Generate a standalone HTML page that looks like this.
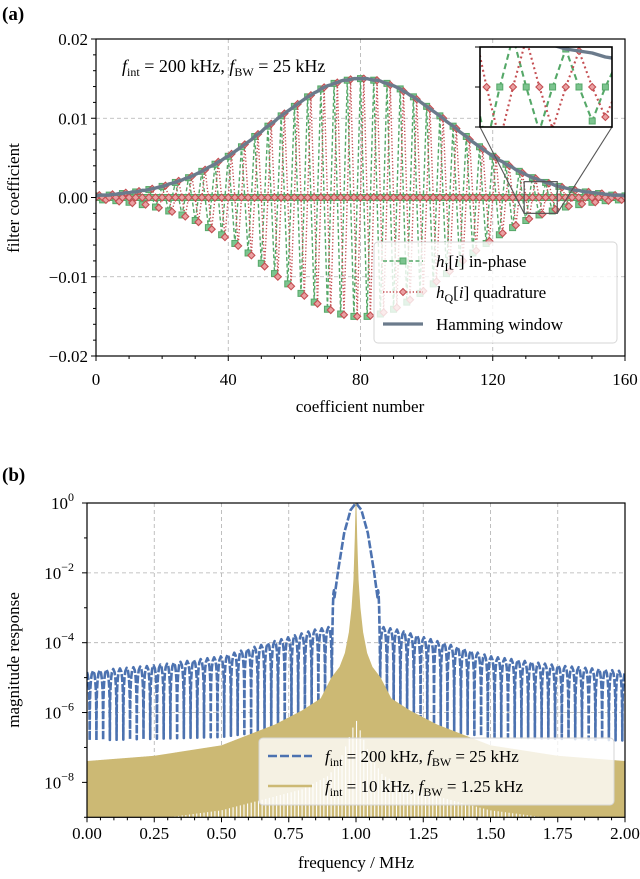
<!DOCTYPE html>
<html><head><meta charset="utf-8"><style>
html,body{margin:0;padding:0;background:#fff;}
svg{display:block;font-family:"Liberation Serif","DejaVu Serif",serif;}
</style></head><body>
<svg id="chart" width="640" height="879" viewBox="0 0 640 879" xmlns="http://www.w3.org/2000/svg">
<defs>
<clipPath id="clipA"><rect x="96" y="39" width="529" height="317"/></clipPath>
<clipPath id="clipInset"><rect x="480" y="47" width="132" height="80"/></clipPath>
<clipPath id="clipB"><rect x="87" y="503" width="538" height="314.3"/></clipPath>
</defs>
<rect width="640" height="879" fill="#fff"/>
<text x="2" y="20" font-size="19" font-weight="bold">(a)</text>
<text x="2" y="481" font-size="19" font-weight="bold">(b)</text>
<g id="aGrid"></g>
<g id="aData" clip-path="url(#clipA)"></g>
<g id="aAxes"></g>
<text x="122" y="72" font-size="18"><tspan font-style="italic">f</tspan><tspan font-size="12" dy="4">int</tspan><tspan dy="-4"> = 200 kHz, </tspan><tspan font-style="italic">f</tspan><tspan font-size="12" dy="4">BW</tspan><tspan dy="-4"> = 25 kHz</tspan></text>
<g id="aLegend">
<rect x="374" y="242" width="243" height="101" rx="4" fill="#fff" fill-opacity="0.8" stroke="#d6d6d6"/>
<g>
<line x1="383" y1="261" x2="423" y2="261" stroke="#55a868" stroke-width="1.4" stroke-dasharray="4,2.5"/>
<rect x="400" y="258" width="6" height="6" fill="#7cc48f" stroke="#55a868" stroke-width="1"/>
<text x="436" y="267" font-size="17"><tspan font-style="italic">h</tspan><tspan font-size="12" dy="4">I</tspan><tspan dy="-4">[</tspan><tspan font-style="italic">i</tspan><tspan>] in-phase</tspan></text>
</g>
<g>
<line x1="383" y1="292" x2="423" y2="292" stroke="#c44e52" stroke-width="1.4" stroke-dasharray="1.3,2"/>
<path d="M403 288.5 L406.5 292 L403 295.5 L399.5 292 Z" fill="#eaa0a2" stroke="#c44e52" stroke-width="1"/>
<text x="436" y="298" font-size="17"><tspan font-style="italic">h</tspan><tspan font-size="12" dy="4">Q</tspan><tspan dy="-4">[</tspan><tspan font-style="italic">i</tspan><tspan>] quadrature</tspan></text>
</g>
<g>
<line x1="383" y1="324" x2="423" y2="324" stroke="#6b7b8c" stroke-width="3.2"/>
<text x="436" y="330" font-size="17">Hamming window</text>
</g>
</g>
<g id="inset"></g>
<g id="bGrid"></g>
<g id="bData" clip-path="url(#clipB)"></g>
<g id="bAxes"></g>
<g id="bLegend">
<rect x="259" y="738" width="355" height="67" rx="4" fill="#fff" fill-opacity="0.8" stroke="#d6d6d6"/>
<g>
<line x1="268" y1="756" x2="312" y2="756" stroke="#4c72b0" stroke-width="2.4" stroke-dasharray="9,3"/>
<text x="325" y="762" font-size="17"><tspan font-style="italic">f</tspan><tspan font-size="12" dy="4">int</tspan><tspan dy="-4"> = 200 kHz, </tspan><tspan font-style="italic">f</tspan><tspan font-size="12" dy="4">BW</tspan><tspan dy="-4"> = 25 kHz</tspan></text>
</g>
<g>
<line x1="268" y1="786" x2="312" y2="786" stroke="#ccb974" stroke-width="2.5"/>
<text x="325" y="792" font-size="17"><tspan font-style="italic">f</tspan><tspan font-size="12" dy="4">int</tspan><tspan dy="-4"> = 10 kHz, </tspan><tspan font-style="italic">f</tspan><tspan font-size="12" dy="4">BW</tspan><tspan dy="-4"> = 1.25 kHz</tspan></text>
</g>
</g>
<text transform="translate(19,198) rotate(-90)" text-anchor="middle" font-size="17">filter coefficient</text>
<text x="360" y="412" text-anchor="middle" font-size="17">coefficient number</text>
<text transform="translate(19,660) rotate(-90)" text-anchor="middle" font-size="17">magnitude response</text>
<text x="356" y="868" text-anchor="middle" font-size="17">frequency / MHz</text>
</svg>
<script>
// ---------- panel (a) data ----------
// Window envelope of the coefficients, in units of 1e-4 (i = 0..160)
const windowHalf = [2,3,3,3,3,4,4,5,5,6,6,7,7,8,9,9,10,11,12,13,14,15,17,18,19,21,22,24,25,27,29,31,33,35,38,40,42,45,47,50,52,55,58,61,64,67,70,73,77,80,83,87,90,93,96,100,103,106,109,112,115,118,121,124,127,129,132,134,137,139,141,142,144,145,147,148,148,149,150,150,150];
const windowValues = windowHalf.concat(windowHalf.slice(0,80).reverse());
const inPhasePattern = [1,0,-1,0];
const quadPattern = [0,1,0,-1];
const aXTicks = [0,40,80,120,160];
const aYTicks = [0.02,0.01,0,-0.01,-0.02];
const aYTickLabels = ["0.02","0.01","0.00","\u22120.01","\u22120.02"];
// ---------- panel (b) data ----------
const mainLobeOffset = [0,0.02,0.044,0.067,0.08,0.083,0.087,0.09];
const mainLobeLog = [0,-0.2,-0.86,-1.96,-2.7,-2.4,-3.2,-5.0];
const sideOffset = [0.09,0.1,0.15,0.3,0.5,0.75,1.0];
const sideTopLog = [-3.5,-3.55,-3.62,-3.95,-4.39,-4.65,-4.82];
const sideNullLog = [-5.0,-5.6,-6.1,-6.5,-6.7,-6.75,-6.8];
const sideLobeSpacing = 0.025;
const yelOffset = [0,0.003,0.008,0.015,0.025,0.04,0.06,0.09,0.13,0.2,0.3,0.5,0.75,1.0];
const yelLog = [0,-1.0,-2.2,-3.0,-3.7,-4.3,-4.7,-5.0,-5.6,-5.95,-6.35,-6.95,-7.25,-7.4];
const gapOffset = [0,0.02,0.05,0.1,0.2,0.3,0.4,0.5,0.6,0.7];
const gapLog = [-6.2,-6.6,-7.2,-7.8,-8.2,-8.4,-8.6,-8.8,-8.9,-9.0];
const bXTicks = [0,0.25,0.5,0.75,1.0,1.25,1.5,1.75,2.0];
const bXTickLabels = ["0.00","0.25","0.50","0.75","1.00","1.25","1.50","1.75","2.00"];
const bYTicks = [0,-2,-4,-6,-8];

const NS='http://www.w3.org/2000/svg';
function mk(tag, attrs, parent){const e=document.createElementNS(NS,tag);for(const k in attrs)e.setAttribute(k,attrs[k]);parent.appendChild(e);return e;}
function interp(xs, ys, x){if(x<=xs[0])return ys[0];for(let k=1;k<xs.length;k++){if(x<=xs[k]){const t=(x-xs[k-1])/(xs[k]-xs[k-1]);return ys[k-1]+t*(ys[k]-ys[k-1]);}}return ys[ys.length-1];}

const xa = i => 96 + i*529/160;
const ya = v => 197.5 - v*7925;
const xi = i => 480 + (i-129.5)*13.2;
const yi = v => 87 - v*20000;
const xb = f => 87 + f*269;
const yb = lg => 503 - lg*314.3/9;

const hI = windowValues.map((w,i)=>w*1e-4*inPhasePattern[i%4]);
const hQ = windowValues.map((w,i)=>w*1e-4*quadPattern[i%4]);

// ---------- panel (a) ----------
const aGrid=document.getElementById('aGrid');
[40,80,120].forEach(t=>{const l=mk('line',{x1:xa(t),x2:xa(t),y1:39,y2:356,stroke:'#b0b0b0','stroke-width':0.8,'stroke-dasharray':'4,3'},aGrid);

});
[0.01,-0.01].forEach(t=>{const l=mk('line',{x1:96,x2:625,y1:ya(t),y2:ya(t),stroke:'#b0b0b0','stroke-width':0.8,'stroke-dasharray':'4,3'},aGrid);

});

function drawSeries(g, X, Y, s){
  const pI=hI.map((v,i)=>(i?'L':'M')+X(i).toFixed(2)+' '+Y(v).toFixed(2)).join('');
  const lineI=mk('path',{d:pI,fill:'none',stroke:'#55a868','stroke-width':1.4*s,'stroke-dasharray':(4*s)+','+(2.5*s)},g);
  
  
  hI.forEach((v,i)=>{const h=3;const m=mk('rect',{x:X(i)-h,y:Y(v)-h,width:2*h,height:2*h,fill:'#7cc48f',stroke:'#55a868','stroke-width':1},g);
    
    });
  const pQ=hQ.map((v,i)=>(i?'L':'M')+X(i).toFixed(2)+' '+Y(v).toFixed(2)).join('');
  const lineQ=mk('path',{d:pQ,fill:'none',stroke:'#c44e52','stroke-width':1.4*s,'stroke-dasharray':(1.3*s)+','+(2*s)},g);
  
  
  hQ.forEach((v,i)=>{const h=3.5;const x=X(i),y=Y(v);const m=mk('path',{d:`M${x} ${y-h}L${x+h} ${y}L${x} ${y+h}L${x-h} ${y}Z`,fill:'#eaa0a2',stroke:'#c44e52','stroke-width':1.1},g);
    
    });
  const pW=windowValues.map((w,i)=>(i?'L':'M')+X(i).toFixed(2)+' '+Y(w*1e-4).toFixed(2)).join('');
  const win=mk('path',{d:pW,fill:'none',stroke:'#6b7b8c','stroke-width':3.4,'stroke-linejoin':'round'},g);
  
  
}
drawSeries(document.getElementById('aData'), xa, ya, 1);

const aAxes=document.getElementById('aAxes');
const frameA=mk('rect',{x:96,y:39,width:529,height:317,fill:'none',stroke:'#000','stroke-width':1.2},aAxes);


for(let t=0;t<=160;t+=10){const major=aXTicks.includes(t);const l=mk('line',{x1:xa(t),x2:xa(t),y1:356,y2:356+(major?5:3),stroke:'#000','stroke-width':1},aAxes);

}
aXTicks.forEach(t=>{const tx=mk('text',{x:xa(t),y:385,'text-anchor':'middle','font-size':17},aAxes);tx.textContent=String(t);

});
for(let k=-10;k<=10;k++){const v=k*0.002;const major=(k%5===0);const l=mk('line',{x1:96,x2:96-(major?5:3),y1:ya(v),y2:ya(v),stroke:'#000','stroke-width':1},aAxes);

}
aYTicks.forEach((t,k)=>{const tx=mk('text',{x:88,y:ya(t)+6,'text-anchor':'end','font-size':17},aAxes);tx.textContent=aYTickLabels[k];

});

const zr=mk('rect',{x:xa(129.5),y:ya(0.002),width:xa(139.5)-xa(129.5),height:ya(-0.002)-ya(0.002),fill:'none',stroke:'#555','stroke-width':1.2},aAxes);


const c1=mk('line',{x1:480,y1:127,x2:xa(129.5),y2:ya(-0.002),stroke:'#555','stroke-width':1.1},aAxes);


const c2=mk('line',{x1:612,y1:127,x2:xa(139.5),y2:ya(-0.002),stroke:'#555','stroke-width':1.1},aAxes);



const inset=document.getElementById('inset');
const ib=mk('rect',{x:480,y:47,width:132,height:80,fill:'#fff'},inset);


const ig=mk('g',{'clip-path':'url(#clipInset)'},inset);


drawSeries(ig, xi, yi, 1.5);
const ifr=mk('rect',{x:480,y:47,width:132,height:80,fill:'none',stroke:'#000','stroke-width':1.6},inset);


[0.002,0,-0.002].forEach(v=>{const l=mk('line',{x1:480,x2:475,y1:yi(v),y2:yi(v),stroke:'#000','stroke-width':1},inset);

});

// ---------- panel (b) ----------
const bGrid=document.getElementById('bGrid');
bXTicks.slice(1,-1).forEach(t=>{const l=mk('line',{x1:xb(t),x2:xb(t),y1:503,y2:817.3,stroke:'#b0b0b0','stroke-width':0.8,'stroke-dasharray':'4,3'},bGrid);

});
bYTicks.slice(1).forEach(t=>{const l=mk('line',{x1:87,x2:625,y1:yb(t),y2:yb(t),stroke:'#b0b0b0','stroke-width':0.8,'stroke-dasharray':'4,3'},bGrid);

});

const bData=document.getElementById('bData');
function blueLog(d){
  if(d<0.09) return interp(mainLobeOffset, mainLobeLog, d);
  const u=(d-0.09)/sideLobeSpacing;const p=u-Math.floor(u);
  const top=interp(sideOffset, sideTopLog, d), nul=interp(sideOffset, sideNullLog, d);
  return top+Math.log10(Math.max(Math.abs(Math.sin(Math.PI*p)), Math.pow(10,nul-top)));
}
const side=[];
for(let d=0;d<0.09;d+=0.002) side.push(d);
const nLobes=Math.ceil((1-0.09)/sideLobeSpacing);
const pSteps=[0,0.02,0.05,0.1,0.18,0.3,0.5,0.7,0.82,0.9,0.95,0.98];
for(let n=0;n<nLobes;n++) pSteps.forEach(p=>{const d=0.09+(n+p)*sideLobeSpacing;if(d<=1.0)side.push(d);});
side.push(1.0);
const pts=[];
for(let k=side.length-1;k>=0;k--) pts.push([1-side[k], blueLog(side[k])]);
for(let k=1;k<side.length;k++) pts.push([1+side[k], blueLog(side[k])]);
const blue=mk('path',{d:pts.map((q,k)=>(k?'L':'M')+xb(q[0]).toFixed(2)+' '+yb(q[1]).toFixed(2)).join(''),fill:'none',stroke:'#4c72b0','stroke-width':2.6,'stroke-dasharray':'8,2','stroke-linejoin':'round'},bData);



let yd='M'+xb(0)+' 818';
for(let f=0;f<=2.0001;f+=0.001){const d=Math.abs(f-1);yd+='L'+xb(f).toFixed(2)+' '+yb(interp(yelOffset,yelLog,d)).toFixed(2);}
yd+='L'+xb(2)+' 818Z';
const yel=mk('path',{d:yd,fill:'#ccb974',stroke:'#ccb974','stroke-width':0.8},bData);


for(let f=0.3;f<=1.7;f+=0.0135){const d=Math.abs(f-1);if(d>0.7)continue;const lv=interp(gapOffset,gapLog,d);
  const l=mk('line',{x1:xb(f),x2:xb(f),y1:818,y2:yb(lv),stroke:'#fff','stroke-width':1.1},bData);
  
  }

const bAxes=document.getElementById('bAxes');
const frameB=mk('rect',{x:87,y:503,width:538,height:314.3,fill:'none',stroke:'#000','stroke-width':1.2},bAxes);


for(let k=0;k<=40;k++){const f=k*0.05;const major=(k%5===0);const l=mk('line',{x1:xb(f),x2:xb(f),y1:817.3,y2:817.3+(major?5:3),stroke:'#000','stroke-width':1},bAxes);

}
bXTicks.forEach((t,k)=>{const tx=mk('text',{x:xb(t),y:839,'text-anchor':'middle','font-size':17},bAxes);tx.textContent=bXTickLabels[k];

});
for(let lg=0;lg>=-9;lg--){const major=(lg%2===0);const l=mk('line',{x1:87,x2:87-(major?5:3),y1:yb(lg),y2:yb(lg),stroke:'#000','stroke-width':1},bAxes);

}
bYTicks.forEach(t=>{const tx=mk('text',{x:74,y:yb(t)+6,'text-anchor':'end','font-size':17},bAxes);
  const a=document.createElementNS(NS,'tspan');a.textContent='10';tx.appendChild(a);
  const b=document.createElementNS(NS,'tspan');b.setAttribute('font-size','12');b.setAttribute('dy','-8');b.textContent=(t===0?'0':'\u2212'+(-t));tx.appendChild(b);
  
  });
</script>
</body></html>
